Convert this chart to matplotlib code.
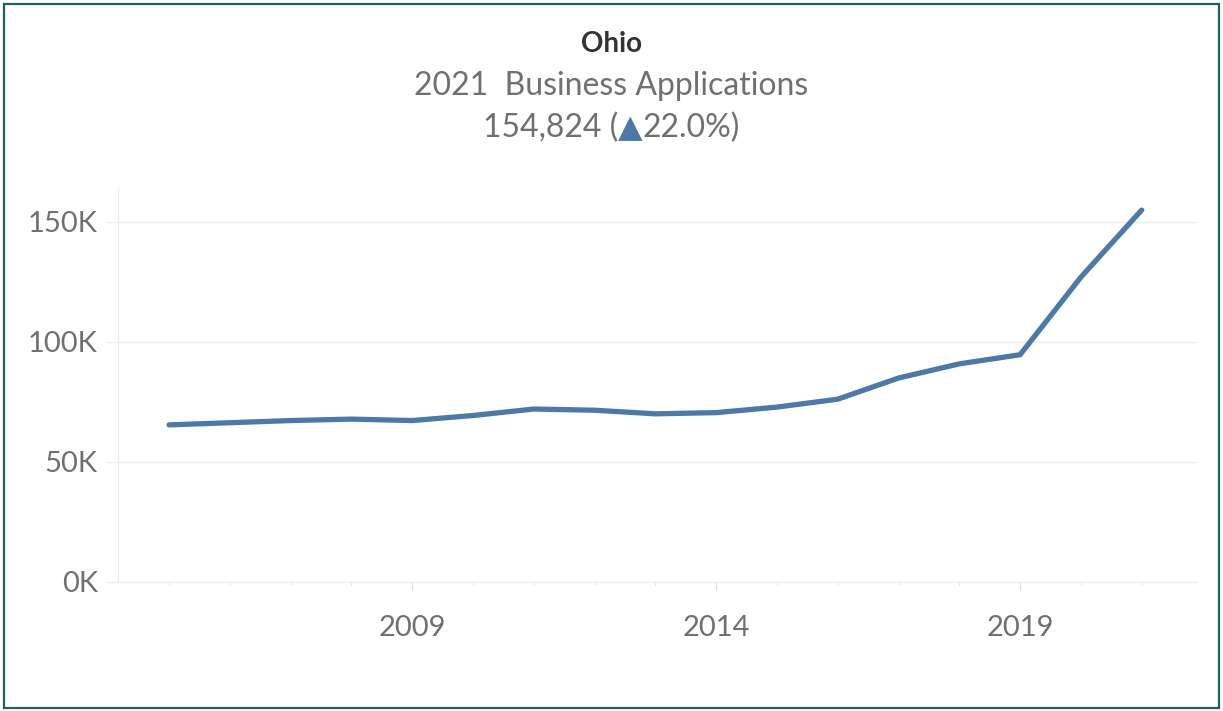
import numpy as np
import matplotlib.pyplot as plt
from matplotlib.patches import Rectangle
from matplotlib.ticker import FuncFormatter, MultipleLocator

# Datos: solicitudes de negocios en Ohio por año
anios = [2005, 2006, 2007, 2008, 2009, 2010, 2011, 2012, 2013,
         2014, 2015, 2016, 2017, 2018, 2019, 2020, 2021]
solicitudes = [65400, 66300, 67200, 67800, 67200, 69300, 72000, 71500, 70000,
               70500, 72800, 76100, 84900, 90800, 94600, 126900, 154824]
ticks_y = [0, 50000, 100000, 150000]
ticks_x = [2009, 2014, 2019]

titulo = "Ohio"
subtitulo = "2021  Business Applications"
valor = "154,824 ("
flecha = "\u25B2"
cambio = "22.0%)"

azul = '#4e79a7'
gris = '#707070'
rejilla = '#ececec'

plt.rcParams['font.family'] = ['Lato', 'DejaVu Sans']

fig = plt.figure(figsize=(12.23, 7.11), dpi=100)
ax = fig.add_axes([118 / 1223, 129 / 711, (1197 - 118) / 1223, (582 - 188) / 711])

ax.plot(anios, solicitudes, color=azul, linewidth=3.8, solid_capstyle='round', solid_joinstyle='round')

ax.set_xlim(2004.16, 2021.91)
ax.set_ylim(0, 164000)

ax.set_yticks(ticks_y)
ax.yaxis.set_major_formatter(FuncFormatter(lambda v, p: f"{int(v / 1000)}K"))
ax.set_xticks(ticks_x)
ax.xaxis.set_minor_locator(MultipleLocator(1))

ax.grid(axis='y', color=rejilla, linewidth=1)
ax.set_axisbelow(True)
for lado in ['top', 'right']:
    ax.spines[lado].set_visible(False)
ax.spines['left'].set_color(rejilla)
ax.spines['bottom'].set_color(rejilla)

ax.tick_params(axis='y', length=9.5, color=rejilla, labelsize=21, labelcolor=gris, pad=5)
ax.tick_params(axis='x', which='major', length=6, color='#dddddd', labelsize=21, labelcolor=gris, pad=18)
ax.tick_params(axis='x', which='minor', length=2.5, color='#dddddd')

# Títulos
fila3 = 1 - 128 / 711
fig.text(0.5, 1 - 44 / 711, titulo, ha='center', va='center', fontsize=20, fontweight='bold', color='#333333')
fig.text(0.5, 1 - 86 / 711, subtitulo, ha='center', va='center', fontsize=23, color=gris)

# Tercera línea en tres trozos: el triángulo va en azul
trozos = [(valor, gris), (flecha, azul), (cambio, gris)]
textos = [fig.text(0, fila3, t, ha='left', va='center', fontsize=23, color=c,
                   family=['Lato', 'DejaVu Sans']) for t, c in trozos]
fig.canvas.draw()
anchos = [t.get_window_extent().width / fig.bbox.width for t in textos]
x = 0.5 - sum(anchos) / 2
for t, w in zip(textos, anchos):
    t.set_x(x)
    x += w

# Marco
fig.patches.append(Rectangle((4 / 1223, 3 / 711), 1 - 8 / 1223, 1 - 7 / 711, transform=fig.transFigure,
                             fill=False, edgecolor='#1d5e6e', linewidth=1.6))

fig.savefig('out.png', dpi=100)
